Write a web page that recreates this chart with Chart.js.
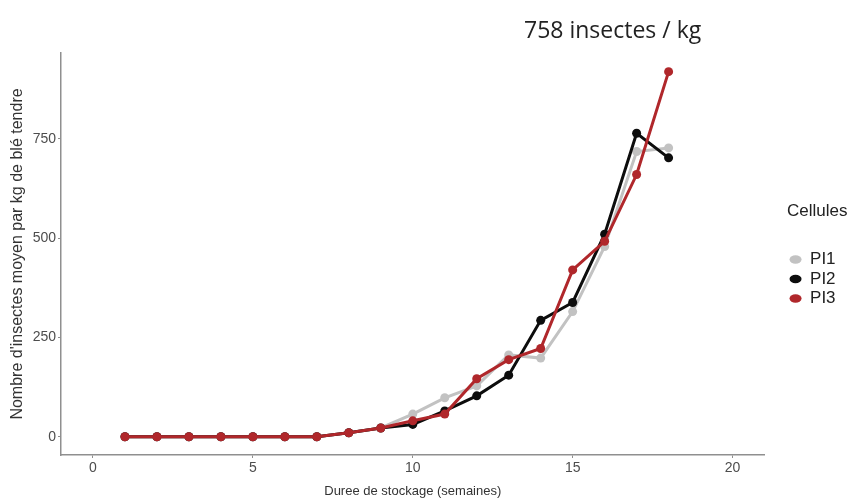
<!DOCTYPE html>
<html>
<head>
<meta charset="utf-8">
<script src="https://cdn.jsdelivr.net/npm/chart.js@4.4.1/dist/chart.umd.min.js"></script>
<style>
  html, body { margin: 0; padding: 0; background: #fff; }
  #wrap { position: relative; width: 856px; height: 499px; }
  #headline {
    position: absolute;
    left: 524px;
    top: 13px;
    font-family: "Open Sans", sans-serif;
    font-size: 23px;
    color: #222;
    white-space: nowrap;
  }
</style>
</head>
<body>
<div id="wrap">
  <canvas id="chart" width="856" height="499"></canvas>
  <div id="headline">758 insectes / kg</div>
</div>
<script>
// weeks of storage
const weeks = [1, 2, 3, 4, 5, 6, 7, 8, 9, 10, 11, 12, 13, 14, 15, 16, 17, 18];

// mean insects per kg, one list per storage cell
const pi1 = [0, 0, 0, 0, 0, 0, 0, 10, 22, 57, 98, 128, 206, 198, 315, 479, 718, 727];
const pi2 = [0, 0, 0, 0, 0, 0, 0, 10, 22, 31, 65, 103, 155, 293, 338, 510, 764, 702];
const pi3 = [0, 0, 0, 0, 0, 0, 0, 10, 22, 40, 57, 146, 194, 222, 420, 492, 660, 919];

const xTicks = [0, 5, 10, 15, 20];
const yTicks = [0, 250, 500, 750];

const seriesNames = ["PI1", "PI2", "PI3"];
const seriesColors = ["#c2c2c2", "#0d0d0d", "#b0272b"];

function toPoints(values) {
  return weeks.map((w, i) => ({ x: w, y: values[i] }));
}

const axisColor = "#8f8f8f";
const sans = "'Liberation Sans', Arial, sans-serif";
const tickFont = { family: sans, size: 14 };

const datasets = [pi1, pi2, pi3].map((vals, i) => ({
  label: seriesNames[i],
  data: toPoints(vals),
  borderColor: seriesColors[i],
  backgroundColor: seriesColors[i],
  borderWidth: 3,
  pointRadius: 4.5,
  pointHoverRadius: 4.5,
  pointBorderWidth: 0,
  tension: 0,
  order: 3 - i, // red drawn on top
  yAxisID: "y",
}));

// default legend items, padded so the box is wide enough for the title
const legendItems = (chart) =>
  Chart.defaults.plugins.legend.labels
    .generateLabels(chart)
    .map((item) => ({ ...item, text: item.text + "  " }));

new Chart(document.getElementById("chart"), {
  type: "line",
  data: { datasets },
  options: {
    responsive: false,
    devicePixelRatio: 1,
    animation: false,
    layout: { padding: { top: 53, left: 0, right: 1, bottom: 0 } },
    plugins: {
      tooltip: { enabled: false },
      legend: {
        position: "right",
        align: "start",
        title: {
          display: true,
          position: "start",
          text: "Cellules",
          color: "#222",
          font: { family: sans, size: 17 },
          padding: { top: 150, bottom: 25 },
        },
        labels: {
          generateLabels: legendItems,
          sort: (a, b) => a.datasetIndex - b.datasetIndex,
          usePointStyle: true,
          pointStyle: "circle",
          pointStyleWidth: 12,
          boxHeight: 6,
          padding: 2.5,
          color: "#222",
          font: { family: sans, size: 17 },
        },
      },
    },
    scales: {
      x: {
        type: "linear",
        min: -1,
        max: 21,
        afterBuildTicks: (axis) => { axis.ticks = xTicks.map((v) => ({ value: v })); },
        afterFit: (axis) => { axis.height = 44; },
        grid: { drawOnChartArea: false, drawTicks: true, tickLength: 3, color: axisColor },
        border: { display: true, color: axisColor, width: 1.5 },
        ticks: { color: "#4d4d4d", font: tickFont, padding: 2, maxRotation: 0 },
        title: {
          display: true,
          text: "Duree de stockage (semaines)",
          color: "#333",
          font: { family: sans, size: 13 },
          padding: { top: 0, bottom: 0 },
        },
      },
      y: {
        type: "linear",
        min: -46,
        max: 966,
        afterBuildTicks: (axis) => { axis.ticks = yTicks.map((v) => ({ value: v })); },
        afterFit: (axis) => { axis.width = 61; },
        grid: { drawOnChartArea: false, drawTicks: true, tickLength: 3, color: axisColor },
        border: { display: true, color: axisColor, width: 1.5 },
        ticks: { color: "#4d4d4d", font: tickFont, padding: 2 },
        title: {
          display: true,
          text: "Nombre d'insectes moyen par kg de blé tendre",
          color: "#333",
          font: { family: sans, size: 16 },
          padding: { top: 8, bottom: 0 },
        },
      },
      // empty right-hand gutter between the panel and the legend
      gutter: {
        type: "linear",
        position: "right",
        display: true,
        afterFit: (axis) => { axis.width = 22.5; },
        grid: { display: false },
        border: { display: false },
        ticks: { display: false },
      },
    },
  },
});
</script>
</body>
</html>
